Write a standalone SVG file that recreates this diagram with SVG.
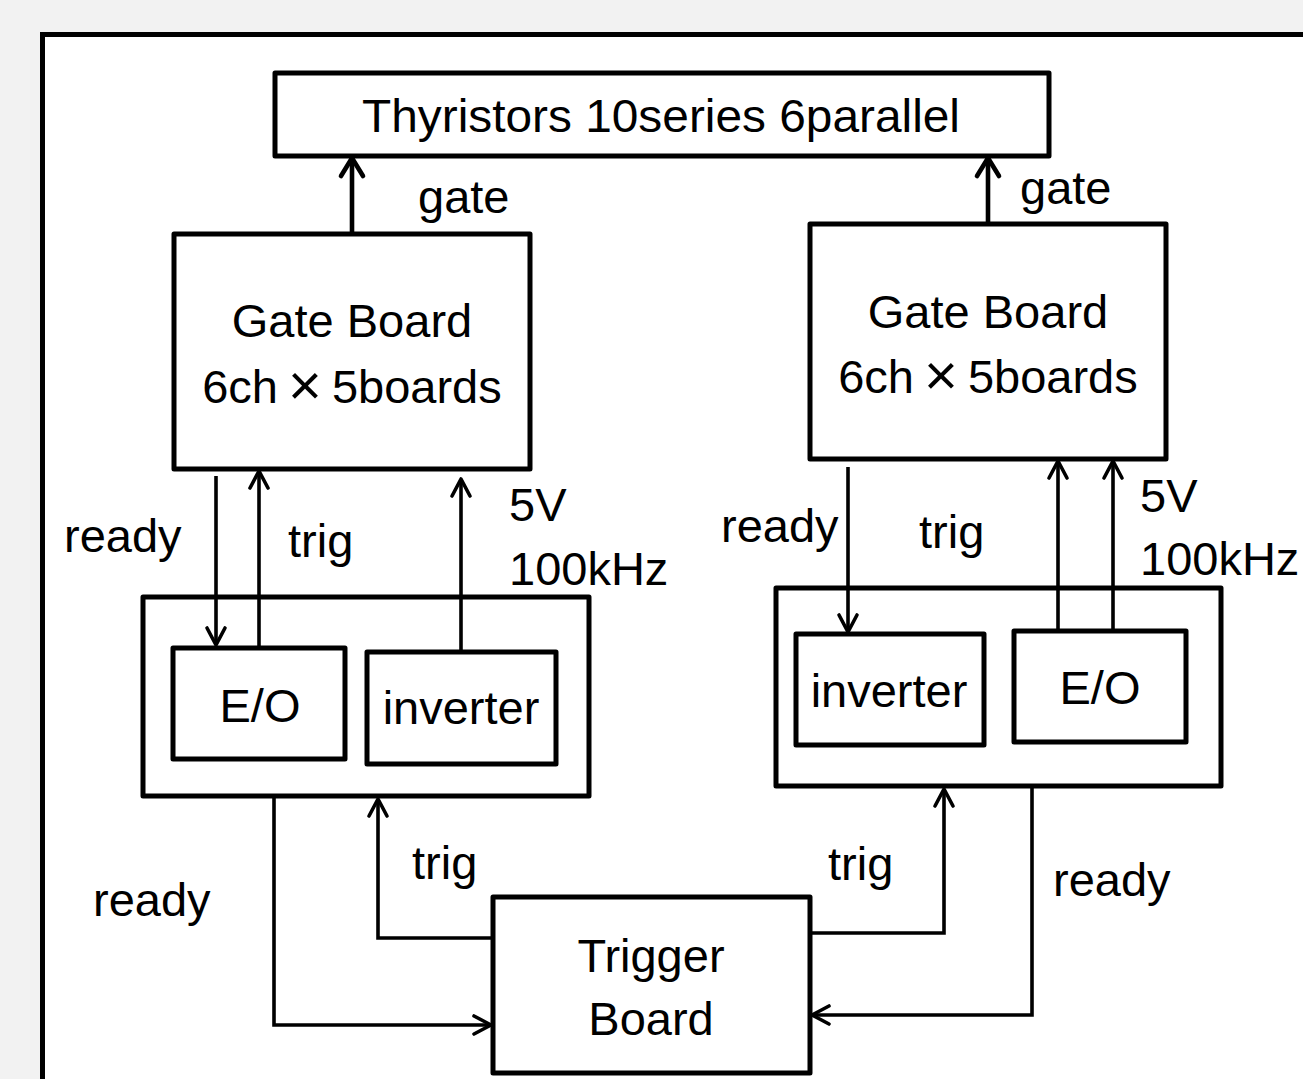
<svg xmlns="http://www.w3.org/2000/svg" width="1303" height="1079" viewBox="0 0 1303 1079">
<style>
.box{fill:#fff;stroke:#000;stroke-width:5;stroke-linejoin:round}
.frame{fill:#fff;stroke:#000;stroke-width:5}
.con{fill:none;stroke:#000;stroke-width:3.6;stroke-linejoin:miter}
.gcon{fill:none;stroke:#000;stroke-width:4.6}
text{font-family:"Liberation Sans",Arial,sans-serif;font-size:47px;fill:#000}
.c{text-anchor:middle}
.x{font-size:58px}
</style>
<defs>
<marker id="arr" markerUnits="userSpaceOnUse" viewBox="-22 -14 26 28" markerWidth="26" markerHeight="28" refX="0" refY="0" orient="auto" overflow="visible">
<path d="M-17,-9 L0,0 L-17,9" fill="none" stroke="#000" stroke-width="3.6" stroke-linejoin="round" stroke-linecap="round"/>
</marker>
<marker id="garr" markerUnits="userSpaceOnUse" viewBox="-22 -14 26 28" markerWidth="26" markerHeight="28" refX="0" refY="0" orient="auto" overflow="visible">
<path d="M-18,-11 L0,0 L-18,11" fill="none" stroke="#000" stroke-width="4.6" stroke-linejoin="round" stroke-linecap="round"/>
</marker>
</defs>
<rect x="0" y="0" width="1303" height="1079" fill="#f2f2f2"/>
<rect class="frame" x="42.5" y="34.5" width="1300" height="1100"/>

<g id="thyristors">
<rect class="box" x="275" y="73" width="774" height="83"/>
<text class="c" x="661" y="132" textLength="598" lengthAdjust="spacingAndGlyphs">Thyristors 10series 6parallel</text>
</g>

<g id="gate-board-left">
<rect class="box" x="174" y="234" width="356" height="235"/>
<text class="c" x="352" y="337">Gate Board</text>
<text class="c" x="352" y="403">6ch<tspan class="x" dx="10" dy="2">×</tspan><tspan dx="10" dy="-2">5boards</tspan></text>
</g>

<g id="gate-board-right">
<rect class="box" x="810" y="224" width="356" height="235"/>
<text class="c" x="988" y="328">Gate Board</text>
<text class="c" x="988" y="393">6ch<tspan class="x" dx="10" dy="2">×</tspan><tspan dx="10" dy="-2">5boards</tspan></text>
</g>

<g id="module-left">
<rect class="box" x="143" y="597" width="446" height="199"/>
</g>
<g id="eo-left">
<rect class="box" x="173" y="648" width="172" height="111"/>
<text class="c" x="260" y="722">E/O</text>
</g>
<g id="inverter-left">
<rect class="box" x="367" y="652" width="189" height="112"/>
<text class="c" x="461" y="724">inverter</text>
</g>

<g id="module-right">
<rect class="box" x="776" y="588" width="445" height="198"/>
</g>
<g id="inverter-right">
<rect class="box" x="796" y="634" width="188" height="111"/>
<text class="c" x="889" y="707">inverter</text>
</g>
<g id="eo-right">
<rect class="box" x="1014" y="631" width="172" height="111"/>
<text class="c" x="1100" y="704">E/O</text>
</g>

<g id="trigger-board">
<rect class="box" x="493" y="897" width="317" height="176"/>
<text class="c" x="651" y="972">Trigger</text>
<text class="c" x="651" y="1035">Board</text>
</g>

<g id="connectors">
<path class="gcon" d="M352,233 L352,158" marker-end="url(#garr)"/>
<path class="gcon" d="M988,224 L988,158" marker-end="url(#garr)"/>
<path class="con" d="M216,476 L216,645" marker-end="url(#arr)"/>
<path class="con" d="M259,646 L259,471" marker-end="url(#arr)"/>
<path class="con" d="M461,650 L461,479" marker-end="url(#arr)"/>
<path class="con" d="M848,467 L848,632" marker-end="url(#arr)"/>
<path class="con" d="M1058,629 L1058,461" marker-end="url(#arr)"/>
<path class="con" d="M1113,629 L1113,461" marker-end="url(#arr)"/>
<path class="con" d="M274,798 L274,1025 L491,1025" marker-end="url(#arr)"/>
<path class="con" d="M491,938 L378,938 L378,799" marker-end="url(#arr)"/>
<path class="con" d="M812,933 L944,933 L944,789" marker-end="url(#arr)"/>
<path class="con" d="M1032,788 L1032,1015 L812,1015" marker-end="url(#arr)"/>
</g>

<g id="labels">
<text x="418" y="213">gate</text>
<text x="1020" y="204">gate</text>
<text x="64" y="552">ready</text>
<text x="288" y="557">trig</text>
<text x="509" y="521">5V</text>
<text x="509" y="585">100kHz</text>
<text x="721" y="542">ready</text>
<text x="919" y="548">trig</text>
<text x="1140" y="512">5V</text>
<text x="1140" y="575">100kHz</text>
<text x="93" y="916">ready</text>
<text x="412" y="879">trig</text>
<text x="828" y="880">trig</text>
<text x="1053" y="896">ready</text>
</g>
</svg>
